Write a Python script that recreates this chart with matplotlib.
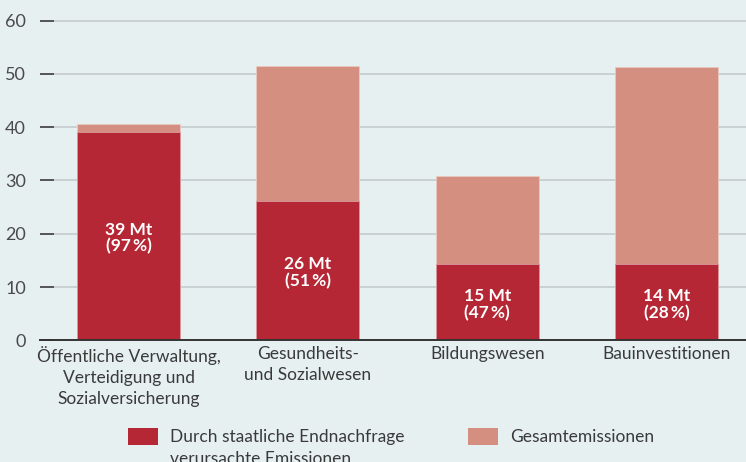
import numpy as np
import matplotlib
matplotlib.use("Agg")
import matplotlib.pyplot as plt
from matplotlib.patches import Rectangle

# -----------------------------
# Data
# -----------------------------
categories = [
    "Öffentliche Verwaltung,\nVerteidigung und\nSozialversicherung",
    "Gesundheits-\nund Sozialwesen",
    "Bildungswesen",
    "Bauinvestitionen",
]
staat_emissions = [39.1, 26.2, 14.3, 14.3]     # Mt, caused by public final demand
total_emissions = [40.6, 51.5, 30.8, 51.3]     # Mt, total
bar_labels = ["39 Mt\n(97\u2009%)", "26 Mt\n(51\u2009%)", "15 Mt\n(47\u2009%)", "14 Mt\n(28\u2009%)"]
yticks = [0, 10, 20, 30, 40, 50, 60]

legend_labels = ["Durch staatliche Endnachfrage\nverursachte Emissionen", "Gesamtemissionen"]

# -----------------------------
# Style
# -----------------------------
BG = "#E6F0F1"
DARK = "#B52735"
LIGHT = "#D48F80"
TEXT = "#3A3A3A"
GRID = "#C5CBCE"

plt.rcParams["font.family"] = ["Lato", "DejaVu Sans"]

fig = plt.figure(figsize=(7.46, 4.62), dpi=100, facecolor=BG)
ax = fig.add_axes([40 / 746, (462 - 340.3) / 462, 1 - 40 / 746, 330.3 / 462])
ax.set_facecolor(BG)

x = np.arange(len(categories))
w = 0.575

ax.bar(x, total_emissions, width=w, color=LIGHT, edgecolor="#E9C9C2", linewidth=0.6, zorder=2)
ax.bar(x, staat_emissions, width=w, color=DARK, edgecolor="#D99AA0", linewidth=0.6, zorder=3)

for xi, v, lab in zip(x, staat_emissions, bar_labels):
    ax.text(xi, v / 2 - 0.4, lab, ha="center", va="center", color="white",
            fontsize=12.5, fontweight="bold", linespacing=1.05, zorder=4)

ax.set_xlim(-0.4936, 3.443)
ax.set_ylim(0, 62)
ax.set_yticks(yticks)
ax.set_yticklabels([str(t) for t in yticks], color="#4A4A4A", fontsize=13)
ax.yaxis.grid(True, color=GRID, linewidth=1.2)
ax.set_axisbelow(True)
ax.tick_params(axis="y", direction="in", length=10, width=1.2, color="#404040", pad=10)

ax.set_xticks(x)
ax.set_xticklabels(categories, color=TEXT, fontsize=12.5, linespacing=1.38)
ax.tick_params(axis="x", length=0, pad=4)

for s in ["left", "right", "top"]:
    ax.spines[s].set_visible(False)
ax.spines["bottom"].set_color("#333333")
ax.spines["bottom"].set_linewidth(1.4)
ax.spines["bottom"].set_zorder(5)

# legend drawn by hand so the swatch sits at the first text line
leg_items = [(128, legend_labels[0], DARK), (468, legend_labels[1], LIGHT)]
for px, lab, col in leg_items:
    fig.patches.append(Rectangle((px / 746, 1 - 445 / 462), 30 / 746, 17 / 462,
                                 transform=fig.transFigure, facecolor=col, edgecolor="none"))
    fig.text((px + 42) / 746, 1 - 429 / 462, lab, ha="left", va="top", color=TEXT,
             fontsize=12.5, linespacing=1.45)

fig.savefig("out.png", dpi=100, facecolor=BG)
